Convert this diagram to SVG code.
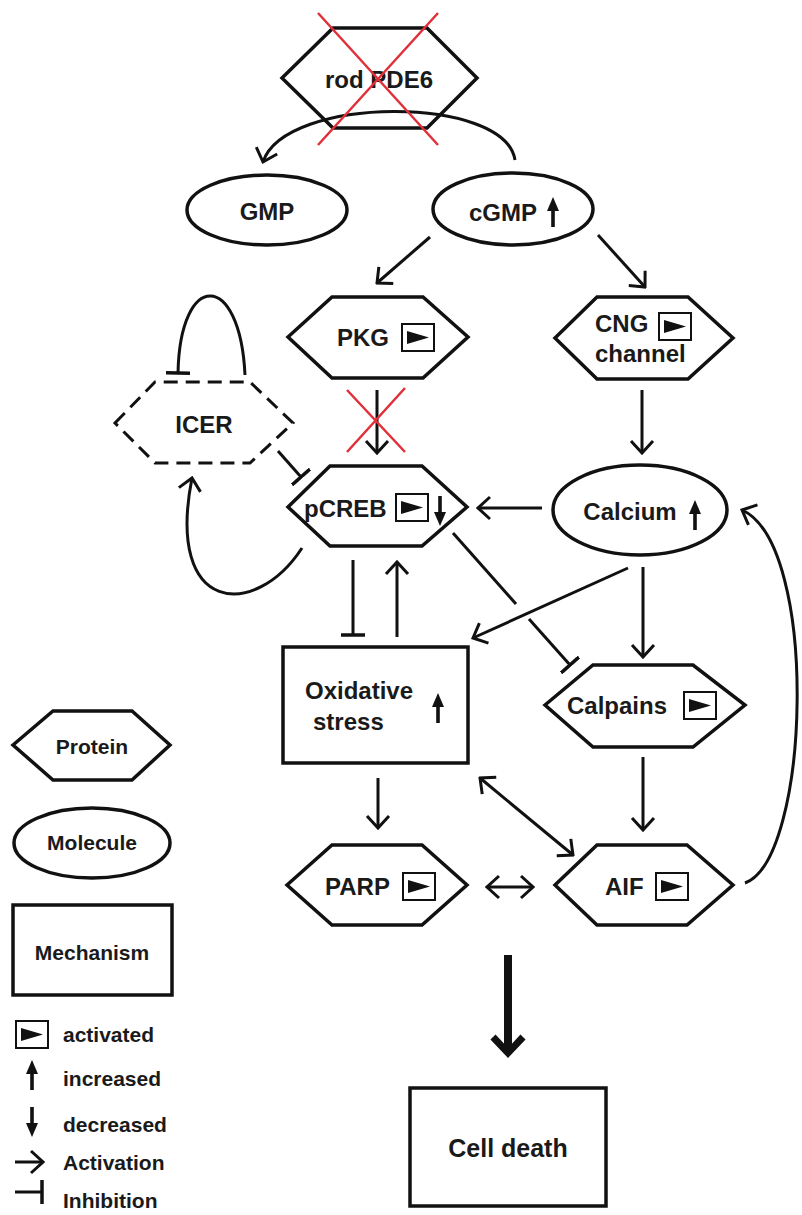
<svg xmlns="http://www.w3.org/2000/svg" xmlns:xlink="http://www.w3.org/1999/xlink" width="802" height="1215" viewBox="0 0 802 1215">
<style>
.shape{fill:#fff;stroke:#111;stroke-width:3.5;stroke-linejoin:miter}
.dash{fill:#fff;stroke:#111;stroke-width:3;stroke-dasharray:14 8}
.t{font-family:"Liberation Sans",Arial,sans-serif;font-weight:bold;font-size:24px;fill:#1a1a1a}
.lt{font-family:"Liberation Sans",Arial,sans-serif;font-weight:bold;font-size:21px;fill:#1a1a1a}
.c{fill:none;stroke:#111;stroke-width:3}
.act{marker-end:url(#arr)}
.inh{marker-end:url(#bar)}
.red{stroke:#e0303a;stroke-width:2.5;fill:none}
</style>
<defs>
<marker id="arr" viewBox="0 0 16 26" refX="14" refY="13" markerWidth="16" markerHeight="26" markerUnits="userSpaceOnUse" orient="auto-start-reverse">
<path d="M2,2 L14,13 L2,24" fill="none" stroke="#111" stroke-width="3"/>
</marker>
<marker id="bar" viewBox="0 0 4 24" refX="2" refY="12" markerWidth="4" markerHeight="24" markerUnits="userSpaceOnUse" orient="auto">
<path d="M2,0 L2,24" stroke="#111" stroke-width="3.5"/>
</marker>
<g id="actbox">
<rect x="1" y="1" width="32" height="27" fill="#fff" stroke="#111" stroke-width="2"/>
<polygon points="6,8 28,14.5 6,21" fill="#111"/>
</g>
<g id="up">
<polygon points="0,0 6,14 -6,14" fill="#111"/>
<rect x="-1.8" y="12" width="3.6" height="18" fill="#111"/>
</g>
<g id="down">
<polygon points="0,30 6,16 -6,16" fill="#111"/>
<rect x="-1.8" y="0" width="3.6" height="18" fill="#111"/>
</g>
</defs>
<rect width="802" height="1215" fill="#fff"/>

<g id="rodPDE6">
<polygon class="shape" points="282,78 333,28 427,28 477,78 427,128 333,128"/>
<text class="t" x="379" y="88" text-anchor="middle">rod PDE6</text>
</g>
<g id="GMP">
<ellipse class="shape" cx="267" cy="210" rx="80" ry="35"/>
<text class="t" x="267" y="220" text-anchor="middle">GMP</text>
</g>
<g id="cGMP">
<ellipse class="shape" cx="513" cy="209" rx="80" ry="36"/>
<text class="t" x="503" y="221" text-anchor="middle">cGMP</text>
<use xlink:href="#up" x="553" y="197"/>
</g>
<g id="PKG">
<polygon class="shape" points="288,337 332,297 423,297 468,337 423,378 332,378"/>
<text class="t" x="363" y="346" text-anchor="middle">PKG</text>
<use xlink:href="#actbox" x="401" y="323"/>
</g>
<g id="CNG">
<polygon class="shape" points="555,338 597,297 688,297 733,338 688,379 597,379"/>
<text class="t" x="595" y="332">CNG</text>
<text class="t" x="595" y="362">channel</text>
<use xlink:href="#actbox" x="658" y="312"/>
</g>
<g id="ICER">
<polygon class="dash" points="115,423 155,382 250,382 293,423 250,463 155,463"/>
<text class="t" x="204" y="433" text-anchor="middle">ICER</text>
</g>
<g id="pCREB">
<polygon class="shape" points="288,507 330,466 422,466 467,507 422,546 330,546"/>
<text class="t" x="304" y="517">pCREB</text>
<use xlink:href="#actbox" x="395" y="493"/>
<use xlink:href="#down" x="440" y="496"/>
</g>
<g id="Calcium">
<ellipse class="shape" cx="640" cy="510" rx="87" ry="45"/>
<text class="t" x="630" y="520" text-anchor="middle">Calcium</text>
<use xlink:href="#up" x="695" y="500"/>
</g>
<g id="OxidativeStress">
<rect class="shape" x="283" y="647" width="185" height="116"/>
<text class="t" x="305" y="699">Oxidative</text>
<text class="t" x="313" y="730">stress</text>
<use xlink:href="#up" x="438" y="693"/>
</g>
<g id="Calpains">
<polygon class="shape" points="545,705 593,665 693,665 745,705 693,747 593,747"/>
<text class="t" x="567" y="714">Calpains</text>
<use xlink:href="#actbox" x="683" y="691"/>
</g>
<g id="PARP">
<polygon class="shape" points="287,885 332,845 422,845 467,885 422,925 332,925"/>
<text class="t" x="325" y="895">PARP</text>
<use xlink:href="#actbox" x="402" y="872"/>
</g>
<g id="AIF">
<polygon class="shape" points="555,885 597,845 687,845 733,885 687,925 597,925"/>
<text class="t" x="605" y="895">AIF</text>
<use xlink:href="#actbox" x="655" y="872"/>
</g>
<g id="CellDeath">
<rect class="shape" x="410" y="1088" width="196" height="118"/>
<text class="t" x="508" y="1157" text-anchor="middle" style="font-size:25px">Cell death</text>
</g>

<g id="connectors">
<path class="c act" d="M515,160 C505,95 285,95 263,162"/>
<path class="c act" d="M430,237 L377,283"/>
<path class="c act" d="M598,235 L645,287"/>
<path class="c act" d="M377,390 L377,453"/>
<path class="c inh" d="M245,375 C240,270 180,270 178,373"/>
<path class="c inh" d="M278,451 L301,477"/>
<path class="c act" d="M302,548 C255,620 165,615 192,478"/>
<path class="c inh" d="M353,560 L353,635"/>
<path class="c act" d="M397,637 L397,562"/>
<path class="c act" d="M542,508 L478,508"/>
<path class="c act" d="M642,390 L642,453"/>
<path class="c act" d="M628,568 L473,638"/>
<path class="c act" d="M643,567 L643,657"/>
<path class="c" d="M453,533 L516,604"/>
<path class="c inh" d="M529,619 L570,665"/>
<path class="c act" d="M643,757 L643,830"/>
<path class="c act" d="M378,778 L378,828"/>
<path class="c act" d="M480,778 L573,855" marker-start="url(#arr)"/>
<path class="c act" d="M487,887 L533,887" marker-start="url(#arr)"/>
<path class="c act" d="M745,883 C810,860 820,545 742,510"/>
<path d="M508,955 L508,1050" stroke="#111" stroke-width="8" fill="none"/>
<path d="M493,1037 L508,1053 L523,1037" stroke="#111" stroke-width="7" fill="none"/>
</g>

<g id="knockouts">
<path class="red" d="M318,13 L438,145 M438,13 L318,145"/>
<path class="red" d="M347,390 L405,452 M405,388 L347,452"/>
</g>

<g id="legend">
<polygon class="shape" points="13,745 53,711 132,711 170,745 132,780 53,780"/>
<text class="lt" x="92" y="754" text-anchor="middle">Protein</text>
<ellipse class="shape" cx="92" cy="843" rx="78" ry="35"/>
<text class="lt" x="92" y="850" text-anchor="middle">Molecule</text>
<rect class="shape" x="13" y="905" width="159" height="90"/>
<text class="lt" x="92" y="960" text-anchor="middle">Mechanism</text>
<use xlink:href="#actbox" x="15" y="1020"/>
<text class="lt" x="63" y="1042">activated</text>
<use xlink:href="#up" x="32" y="1060"/>
<text class="lt" x="63" y="1086">increased</text>
<use xlink:href="#down" x="32" y="1107"/>
<text class="lt" x="63" y="1132">decreased</text>
<path class="c act" d="M15,1162 L43,1162"/>
<text class="lt" x="63" y="1170">Activation</text>
<path class="c inh" d="M15,1192 L42,1192"/>
<text class="lt" x="63" y="1208">Inhibition</text>
</g>
</svg>
